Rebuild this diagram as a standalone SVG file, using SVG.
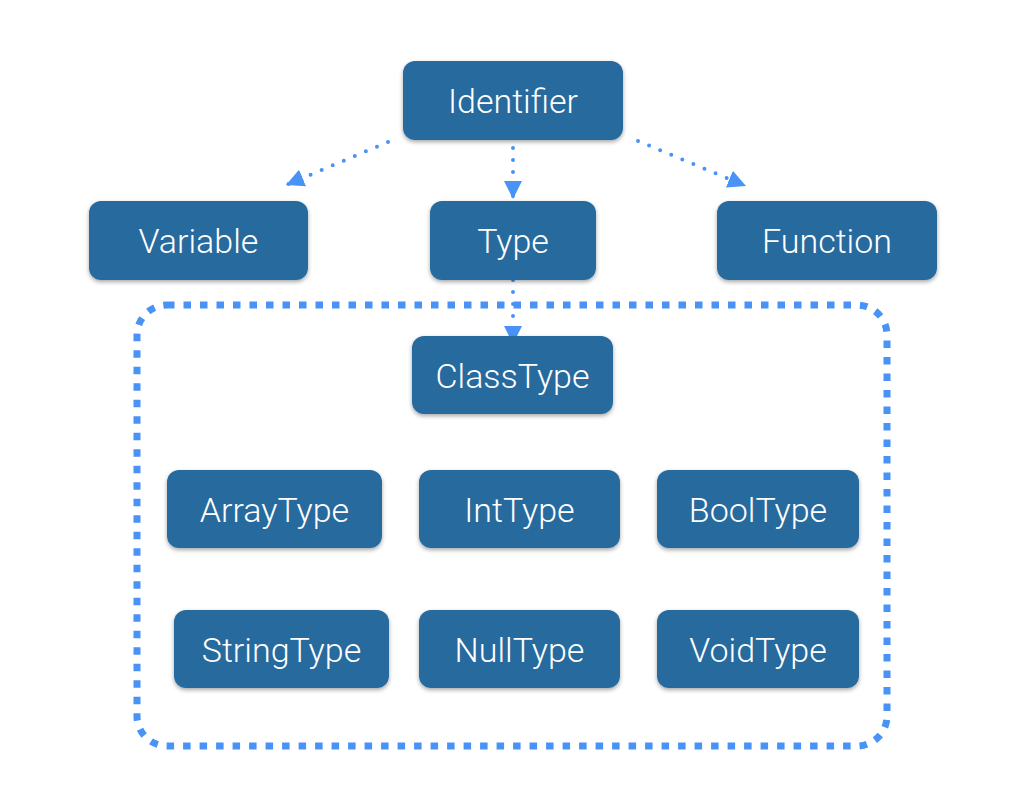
<svg xmlns="http://www.w3.org/2000/svg" width="1020" height="808" viewBox="0 0 1020 808">
<defs>
<filter id="sh" x="-10%" y="-10%" width="120%" height="130%">
<feDropShadow dx="0" dy="2" stdDeviation="2" flood-color="#000" flood-opacity="0.35"/>
</filter>
<marker id="ah" viewBox="0 0 18 18" refX="18" refY="9" markerWidth="18" markerHeight="18" markerUnits="userSpaceOnUse" orient="auto">
<path d="M0,0 L18,9 L0,18 Z" fill="#4893f5"/>
</marker>
<style>
.n rect{fill:#286a9e;filter:url(#sh)}
.n text{fill:#fff;font-family:Roboto,"Liberation Sans",Arial,sans-serif;font-weight:300;font-size:34px;text-anchor:middle}
.c{fill:none;stroke:#4893f5;stroke-width:4;stroke-linecap:round;stroke-dasharray:0 12}
.grp{fill:none;stroke:#4893f5;stroke-width:7;stroke-dasharray:7.5 9}
</style>
</defs>
<rect class="grp" x="137" y="305" width="750" height="441" rx="30"/>
<g id="connectors">
<path class="c" d="M388,142 L286,185" marker-end="url(#ah)"/>
<path class="c" d="M513,136 L513,199" marker-end="url(#ah)"/>
<path class="c" d="M638,141 L746,186" marker-end="url(#ah)"/>
<path class="c" d="M513,280 L513,344" marker-end="url(#ah)"/>
</g>
<g id="identifier" class="n"><rect x="403" y="61" width="220" height="79" rx="12"/><text x="513" y="113">Identifier</text></g>
<g id="variable" class="n"><rect x="89" y="201" width="219" height="79" rx="12"/><text x="198.5" y="253">Variable</text></g>
<g id="type" class="n"><rect x="430" y="201" width="166" height="79" rx="12"/><text x="513" y="253">Type</text></g>
<g id="function" class="n"><rect x="717" y="201" width="220" height="79" rx="12"/><text x="827" y="253">Function</text></g>
<g id="classtype" class="n"><rect x="412" y="336" width="201" height="78" rx="12"/><text x="512.5" y="388">ClassType</text></g>
<g id="arraytype" class="n"><rect x="167" y="470" width="215" height="78" rx="12"/><text x="274.5" y="522">ArrayType</text></g>
<g id="inttype" class="n"><rect x="419" y="470" width="201" height="78" rx="12"/><text x="519.5" y="522">IntType</text></g>
<g id="booltype" class="n"><rect x="657" y="470" width="202" height="78" rx="12"/><text x="758" y="522">BoolType</text></g>
<g id="stringtype" class="n"><rect x="174" y="610" width="215" height="78" rx="12"/><text x="281.5" y="662">StringType</text></g>
<g id="nulltype" class="n"><rect x="419" y="610" width="201" height="78" rx="12"/><text x="519.5" y="662">NullType</text></g>
<g id="voidtype" class="n"><rect x="657" y="610" width="202" height="78" rx="12"/><text x="758" y="662">VoidType</text></g>
</svg>
